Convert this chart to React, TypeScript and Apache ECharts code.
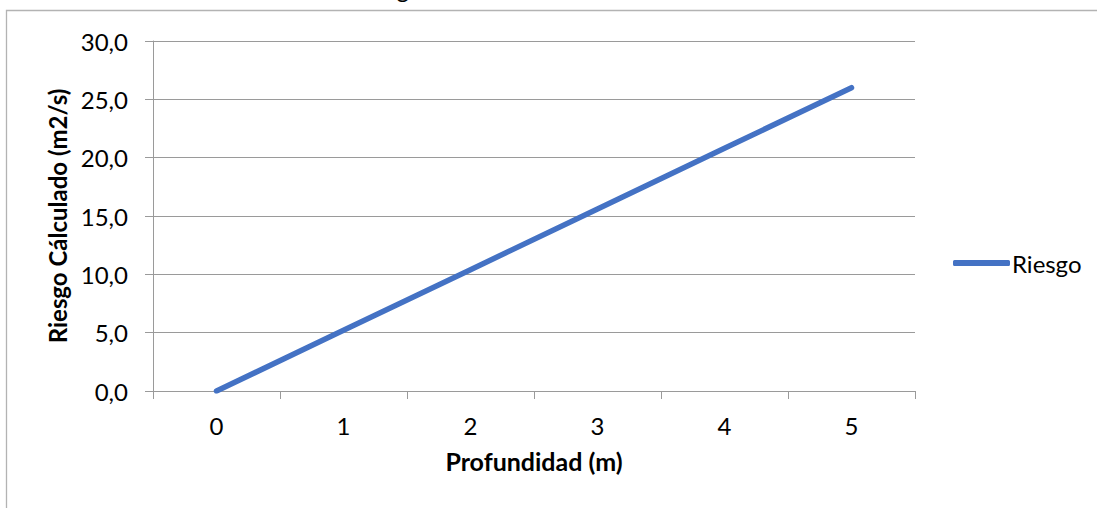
import React, { useEffect, useRef } from "react";
import * as echarts from "echarts";

const categories = ["0", "1", "2", "3", "4", "5"];
const riesgo = [0, 5.2, 10.4, 15.6, 20.8, 26.0];
const seriesName = "Riesgo";
const xName = "Profundidad (m)";
const yName = "Riesgo Cálculado (m2/s)";
const titleText = "Riesgo";

const FONT = "Lato";
const GRID = "#9a9a9a";
const FS = 24;

export default function App() {
  const ref = useRef<HTMLDivElement>(null);
  useEffect(() => {
    if (!ref.current) return;
    const chart = echarts.init(ref.current, undefined, { renderer: "svg" });
    chart.setOption({
      animation: false,
      textStyle: { fontFamily: FONT },
      grid: { left: 153, right: 182, top: 41, bottom: 117 },
      graphic: [
        {
          type: "rect",
          shape: { x: 6.5, y: 10.5, width: 2000, height: 2000 },
          style: { fill: "none", stroke: "#b3b3b3", lineWidth: 1.3 },
          silent: true,
        },
        {
          type: "text",
          x: 353,
          y: 0,
          style: {
            text: titleText,
            font: `${FS}px ${FONT}`,
            fill: "#000",
            textAlign: "left",
            textVerticalAlign: "bottom",
          },
          silent: true,
        },
      ],
      legend: {
        data: [seriesName],
        left: 953,
        top: 251,
        padding: 0,
        icon: "roundRect",
        itemWidth: 57,
        itemHeight: 6,
        itemGap: 10,
        textStyle: { fontSize: FS, color: "#000", fontFamily: FONT, padding: [0, 0, 0, -3] },
      },
      xAxis: {
        type: "category",
        data: categories,
        boundaryGap: true,
        name: xName,
        nameLocation: "middle",
        nameGap: 57,
        nameTextStyle: { fontSize: 25, fontWeight: "bold", color: "#000", fontFamily: FONT },
        axisLine: { lineStyle: { color: GRID, width: 1 } },
        axisTick: { show: true, alignWithLabel: false, length: 8, lineStyle: { color: GRID } },
        axisLabel: { fontSize: FS, color: "#000", margin: 22, fontFamily: FONT },
        splitLine: { show: false },
      },
      yAxis: {
        type: "value",
        min: 0,
        max: 30,
        interval: 5,
        name: yName,
        nameLocation: "middle",
        nameGap: 83,
        nameRotate: 90,
        nameTextStyle: { fontSize: FS, fontWeight: "bold", color: "#000", fontFamily: FONT },
        axisLine: { show: true, lineStyle: { color: GRID, width: 1 } },
        axisTick: { show: true, length: 8, lineStyle: { color: GRID } },
        axisLabel: {
          fontSize: FS,
          color: "#000",
          margin: 25,
          fontFamily: FONT,
          formatter: (v: number) => v.toFixed(1).replace(".", ","),
        },
        splitLine: { show: true, lineStyle: { color: GRID, width: 1 } },
      },
      series: [
        {
          name: seriesName,
          type: "line",
          data: riesgo,
          symbol: "none",
          color: "#4472C4",
          lineStyle: { width: 5.5, color: "#4472C4", cap: "round" },
        },
      ],
    });
    return () => chart.dispose();
  }, []);
  return (
    <div
      ref={ref}
      style={{ position: "absolute", left: 0, top: 0, width: 1097, height: 508, background: "#fff" }}
    />
  );
}
